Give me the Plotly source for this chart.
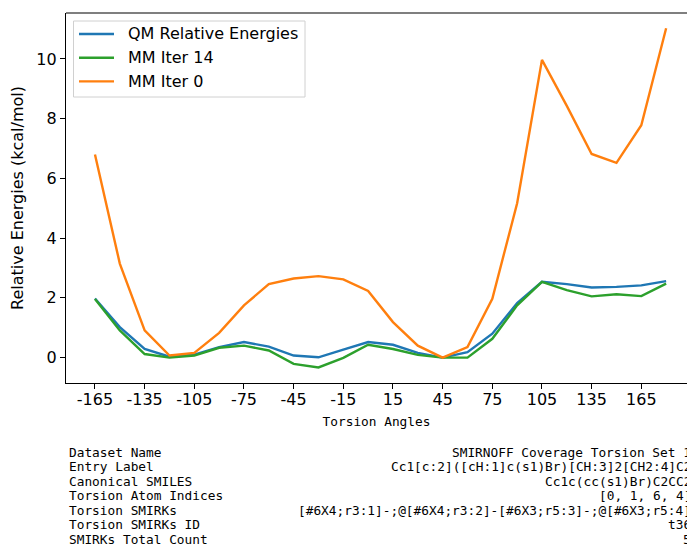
import plotly.graph_objects as go

# Torsion scan grid (degrees)
angles = [-165, -150, -135, -120, -105, -90, -75, -60, -45, -30, -15, 0,
          15, 30, 45, 60, 75, 90, 105, 120, 135, 150, 165, 180]

# Relative energies (kcal/mol)
qm_energies = [1.98, 1.02, 0.29, 0.03, 0.10, 0.35, 0.52, 0.37, 0.07, 0.01, 0.27, 0.52,
               0.43, 0.16, 0.00, 0.18, 0.80, 1.83, 2.54, 2.46, 2.35, 2.37, 2.42, 2.56]
mm_iter14 = [1.96, 0.91, 0.12, 0.00, 0.07, 0.33, 0.40, 0.24, -0.21, -0.33, -0.01, 0.43,
             0.29, 0.09, 0.00, 0.00, 0.63, 1.75, 2.54, 2.26, 2.05, 2.12, 2.06, 2.48]
mm_iter0 = [6.80, 3.15, 0.91, 0.07, 0.16, 0.83, 1.75, 2.46, 2.65, 2.73, 2.62, 2.23,
            1.19, 0.40, 0.00, 0.35, 1.97, 5.17, 9.97, 8.43, 6.82, 6.52, 7.78, 11.03]

# Axis ticks
x_tick_vals = [-165, -135, -105, -75, -45, -15, 15, 45, 75, 105, 135, 165]
x_tick_text = ["-165", "-135", "-105", "-75", "-45", "-15", "15", "45", "75", "105", "135", "165"]
y_tick_vals = [0, 2, 4, 6, 8, 10]

# Metadata table shown under the plot
table_keys = ["Dataset Name", "Entry Label", "Canonical SMILES", "Torsion Atom Indices",
              "Torsion SMIRKs", "Torsion SMIRKs ID", "SMIRKs Total Count"]
table_values = ["SMIRNOFF Coverage Torsion Set 1",
                "Cc1[c:2]([cH:1]c(s1)Br)[CH:3]2[CH2:4]C2",
                "Cc1c(cc(s1)Br)C2CC2",
                "[0, 1, 6, 4]",
                "[#6X4;r3:1]-;@[#6X4;r3:2]-[#6X3;r5:3]-;@[#6X3;r5:4]",
                "t36",
                "5"]

W, H = 687, 544
ML, MR, MT, MB = 66, 0, 13, 161
plot_w = W - ML - MR
plot_h = H - MT - MB


def px_x(x):
    """Pixel column -> paper x."""
    return (x - ML) / plot_w


def px_y(y):
    """Pixel row -> paper y."""
    return 1 - (y - MT) / plot_h


fig = go.Figure()
series = [("QM Relative Energies", qm_energies, "#1f77b4"),
          ("MM Iter 14", mm_iter14, "#2ca02c"),
          ("MM Iter 0", mm_iter0, "#ff7f0e")]
for name, vals, color in series:
    fig.add_trace(go.Scatter(x=angles, y=vals, mode="lines", name=name,
                             line=dict(color=color, width=2.4)))

# Top frame line (right side runs past the visible canvas)
fig.add_shape(type="line", xref="paper", yref="paper", x0=0, x1=1, y0=1, y1=1,
              line=dict(color="black", width=1.2))

# Legend box in the upper-left corner
fig.add_shape(type="rect", xref="paper", yref="paper",
              x0=px_x(73.5), x1=px_x(305), y0=px_y(21), y1=px_y(97),
              fillcolor="rgba(255,255,255,0.85)", line=dict(color="#d0d0d0", width=1))
for i, (name, _, color) in enumerate(series):
    row = 34 + i * 23.7
    fig.add_shape(type="line", xref="paper", yref="paper",
                  x0=px_x(79), x1=px_x(114), y0=px_y(row), y1=px_y(row),
                  line=dict(color=color, width=2.4))
    fig.add_annotation(text=name, xref="paper", yref="paper",
                       x=px_x(126), y=px_y(row), xanchor="left", yanchor="middle",
                       showarrow=False,
                       font=dict(family="DejaVu Sans", size=16, color="black"))

# Metadata rows: key left-aligned, value right-aligned
row_y0 = 452
row_step = 14.5
for i, (k, v) in enumerate(zip(table_keys, table_values)):
    ypix = row_y0 + i * row_step
    fig.add_annotation(text=k, xref="paper", yref="paper",
                       x=px_x(67), y=px_y(ypix), xanchor="left", yanchor="middle",
                       showarrow=False,
                       font=dict(family="DejaVu Sans Mono", size=12.8, color="black"))
    fig.add_annotation(text=v, xref="paper", yref="paper",
                       x=px_x(693), y=px_y(ypix), xanchor="right", yanchor="middle",
                       showarrow=False,
                       font=dict(family="DejaVu Sans Mono", size=12.8, color="black"))

fig.update_layout(
    width=W, height=H,
    margin=dict(l=ML, r=MR, t=MT, b=MB),
    paper_bgcolor="white", plot_bgcolor="white",
    font=dict(family="DejaVu Sans", color="black"),
    showlegend=False,
    xaxis=dict(range=[-182.5, 192.6], tickmode="array", tickvals=x_tick_vals,
               ticktext=x_tick_text, showgrid=False, zeroline=False,
               showline=True, linecolor="black", linewidth=1.2,
               ticks="outside", ticklen=5, tickcolor="black",
               ticklabelstandoff=-3,
               tickfont=dict(family="DejaVu Sans", size=16),
               title=dict(text="Torsion Angles", standoff=8,
                          font=dict(family="DejaVu Sans Mono", size=12.8))),
    yaxis=dict(range=[-0.85, 11.54], tickmode="array", tickvals=y_tick_vals,
               showgrid=False, zeroline=False,
               showline=True, linecolor="black", linewidth=1.2,
               ticks="outside", ticklen=5, tickcolor="black",
               tickfont=dict(family="DejaVu Sans", size=16),
               title=dict(text="Relative Energies (kcal/mol)", standoff=8,
                          font=dict(family="DejaVu Sans", size=16))),
)

fig.write_html("out.html")
